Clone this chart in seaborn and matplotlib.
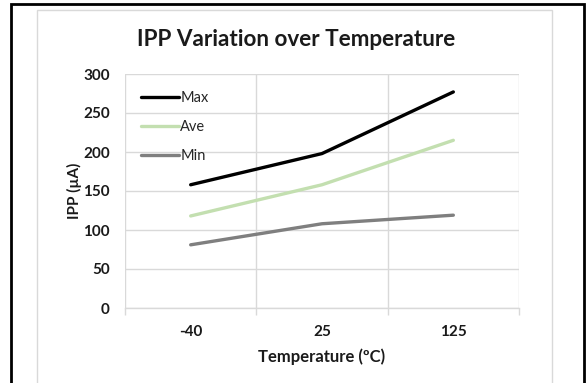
import matplotlib
matplotlib.use("Agg")
import matplotlib.pyplot as plt
from matplotlib.patches import Rectangle
from matplotlib.lines import Line2D
import seaborn as sns
import pandas as pd

temperatures = ["-40", "25", "125"]
ipp_max = [158, 198, 277]
ipp_ave = [118, 158, 215]
ipp_min = [81, 108, 119]
series_names = ["Max", "Ave", "Min"]
series_colors = ["#000000", "#c3dfb0", "#7f7f7f"]
y_ticks = [0, 50, 100, 150, 200, 250, 300]

sns.set_theme(style="white")
plt.rcParams["font.family"] = ["Lato", "DejaVu Sans"]

rows = []
for name, vals in zip(series_names, [ipp_max, ipp_ave, ipp_min]):
    for i, (t, v) in enumerate(zip(temperatures, vals)):
        rows.append({"pos": i, "Temperature": t, "IPP": v, "series": name})
df = pd.DataFrame(rows)

W, H = 586, 383
fig = plt.figure(figsize=(W / 100, H / 100), dpi=100)
fig.patch.set_facecolor("white")

# outer frame and inner chart-area border
fig.add_artist(Rectangle((11 / W, -0.1), (584 - 11) / W, 1.1 - 4 / H,
                         transform=fig.transFigure, fill=False,
                         edgecolor="black", linewidth=2.0))
fig.add_artist(Rectangle((37 / W, -0.1), (552 - 37) / W, 1.1 - 10 / H,
                         transform=fig.transFigure, fill=False,
                         edgecolor="#d9d9d9", linewidth=1.0))

left, right, top, bottom = 125, 519, 74, 308
ax = fig.add_axes([left / W, 1 - bottom / H, (right - left) / W, (bottom - top) / H])

grid_c = "#d9d9d9"
sns.lineplot(data=df, x="pos", y="IPP", hue="series", hue_order=series_names,
             palette=series_colors, linewidth=2.4, ax=ax, legend=False,
             solid_capstyle="round", solid_joinstyle="round")

ax.set_xlim(-0.5, 2.5)
ax.set_ylim(0, 300)
ax.set_yticks(y_ticks)
ax.set_yticklabels([str(v) for v in y_ticks])
ax.set_xticks(range(len(temperatures)))
ax.set_xticklabels(temperatures)
ax.set_xticks([-0.5, 0.5, 1.5, 2.5], minor=True)

ax.grid(axis="y", which="major", color=grid_c, linewidth=1.0)
ax.grid(axis="x", which="minor", color=grid_c, linewidth=1.0)
ax.set_axisbelow(True)
for s in ["top", "right", "left"]:
    ax.spines[s].set_visible(False)
ax.spines["bottom"].set_color(grid_c)
ax.spines["bottom"].set_linewidth(1.0)

ax.tick_params(axis="x", which="major", length=0, pad=12, labelsize=11,
               labelcolor="#1a1a1a")
ax.tick_params(axis="x", which="minor", length=5, width=1.0, color=grid_c,
               direction="out", bottom=True)
ax.tick_params(axis="y", length=0, pad=11, labelsize=11, labelcolor="#1a1a1a")
for lbl in ax.get_xticklabels() + ax.get_yticklabels():
    lbl.set_fontweight("bold")

ax.set_xlabel("Temperature (ºC)", fontsize=12, fontweight="bold",
              color="#1a1a1a", labelpad=7)
ax.set_ylabel("IPP (µA)", fontsize=11, fontweight="bold",
              color="#1a1a1a", labelpad=1)

fig.text(296 / W, 1 - 40 / H, "IPP Variation over Temperature",
         ha="center", va="center", fontsize=16.2, fontweight="bold",
         color="#1a1a1a")

handles = [Line2D([0], [0], color=c, linewidth=2.4) for c in series_colors]
ax.legend(handles, series_names, loc="center left",
          bbox_to_anchor=((141 - left) / (right - left), 1 - (127 - top) / (bottom - top)),
          frameon=False, fontsize=10.5, handlelength=2.6, handletextpad=0.1,
          labelspacing=1.05, borderaxespad=0, borderpad=0,
          labelcolor="#262626")

fig.savefig("out.png", dpi=100, facecolor="white")
